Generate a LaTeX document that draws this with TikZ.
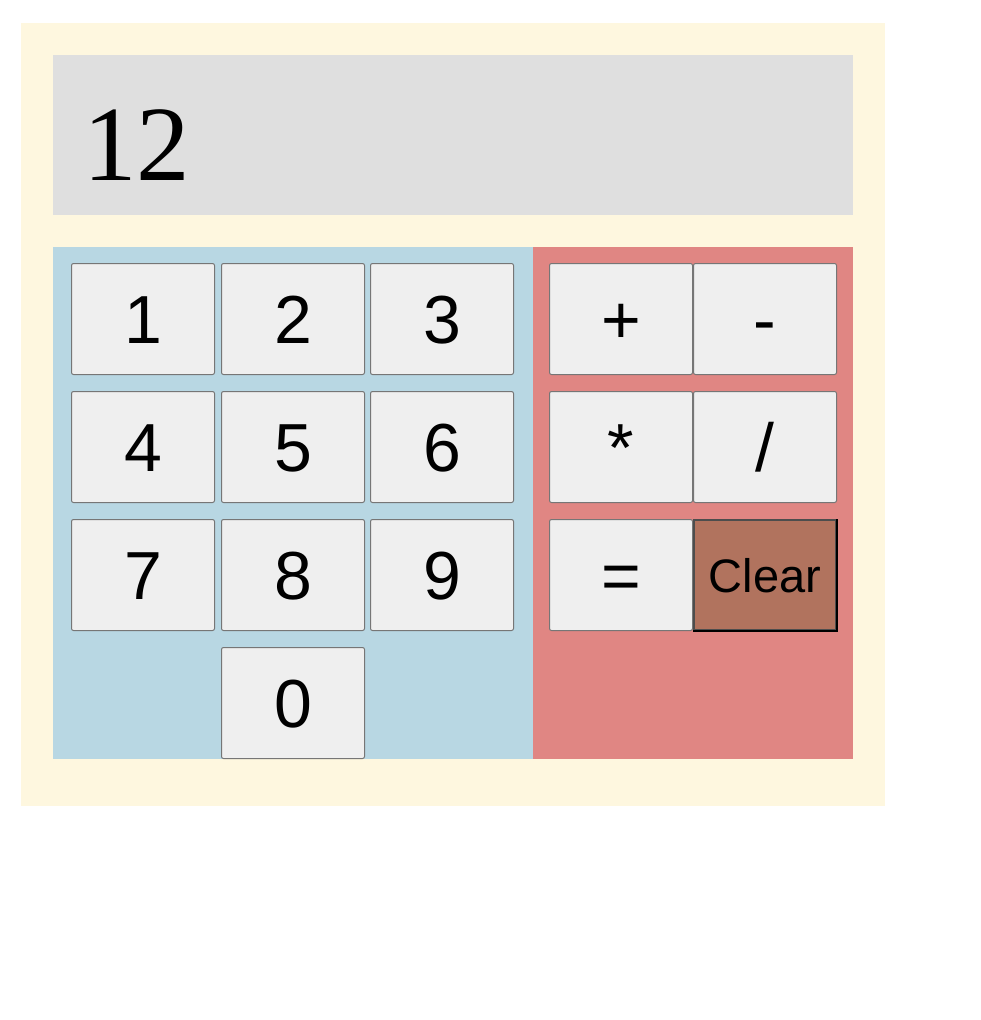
\documentclass[tikz,border=0pt]{standalone}
\usepackage{fontspec}
\newfontfamily\btnfont{Liberation Sans}
\newfontfamily\dispfont{Liberation Serif}
\definecolor{bgyellow}{HTML}{FEF7DF}
\definecolor{dispgray}{HTML}{DFDFDF}
\definecolor{panelblue}{HTML}{B8D7E3}
\definecolor{panelred}{HTML}{E08683}
\definecolor{btnfill}{HTML}{EFEFEF}
\definecolor{btnborder}{HTML}{767676}
\definecolor{clearfill}{HTML}{B1735E}
\definecolor{clearborder}{HTML}{4D4D4D}
\tikzset{
  btn/.style={draw=btnborder, fill=btnfill, rounded corners=2pt, line width=1pt,
    minimum width=143pt, minimum height=111pt, inner sep=0pt,
    font=\btnfont\fontsize{68}{68}\selectfont, text height=49pt, text depth=0pt},
  clearbtn/.style={draw=clearborder, fill=clearfill, line width=2pt,
    minimum width=142pt, minimum height=110pt, inner sep=0pt,
    font=\btnfont\fontsize{47}{47}\selectfont, text height=34pt, text depth=0pt},
  panel/.style={draw=none, inner sep=0pt, anchor=north west}
}
\begin{document}
\begin{tikzpicture}[x=1pt,y=-1pt]
\useasboundingbox (0,0) rectangle (980,1020);
\fill[white] (0,0) rectangle (980,1020);
% outer frame
\fill[bgyellow] (21,23) rectangle (885,806);
% display
\fill[dispgray] (53,55) rectangle (853,215);
\node[anchor=base west, inner sep=0pt, font=\dispfont\fontsize{107}{107}\selectfont] (disp) at (83,180) {12};
% panels
\fill[panelblue] (53,247) rectangle (533,759);
\fill[panelred] (533,247) rectangle (853,759);
% digit buttons
\node[btn] (b1) at (143,319) {1};
\node[btn] (b2) at (293,319) {2};
\node[btn] (b3) at (442,319) {3};
\node[btn] (b4) at (143,447) {4};
\node[btn] (b5) at (293,447) {5};
\node[btn] (b6) at (442,447) {6};
\node[btn] (b7) at (143,575) {7};
\node[btn] (b8) at (293,575) {8};
\node[btn] (b9) at (442,575) {9};
\node[btn] (b0) at (293,703) {0};
% operator buttons
\node[btn] (bplus) at (621,319) {+};
\node[btn] (bminus) at (765,319) {-};
\node[btn] (btimes) at (621,447) {*};
\node[btn] (bdiv) at (765,447) {/};
\node[btn] (beq) at (621,575) {=};
\node[clearbtn] (bclear) at (765,575) {Clear};
\draw[black, line width=2pt] (bclear.south west) -- (bclear.south east) -- (bclear.north east);
\end{tikzpicture}
\end{document}
